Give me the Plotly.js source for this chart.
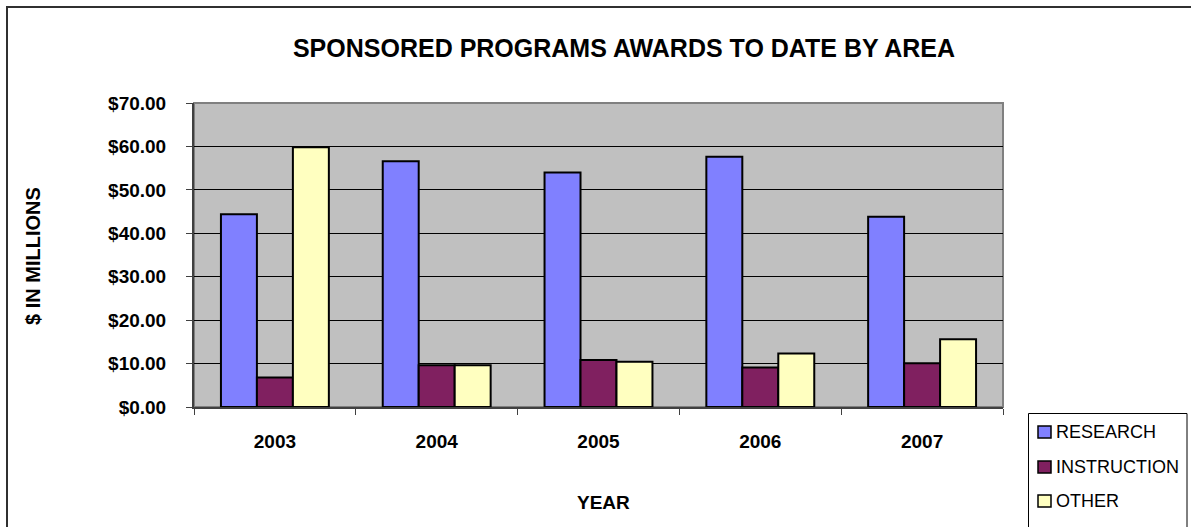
<!DOCTYPE html>
<html>
<head>
<meta charset="utf-8">
<script src="https://cdn.plot.ly/plotly-3.0.1.min.js"></script>
<style>
  html, body { margin: 0; padding: 0; background: #ffffff; overflow: hidden; }
  #chart { width: 1191px; height: 527px; }
</style>
</head>
<body>
<div id="chart"></div>
<script>
// ---- data ----
const years = ['2003', '2004', '2005', '2006', '2007'];
const research = [44.4, 56.6, 54.0, 57.6, 43.8];
const instruction = [6.8, 9.6, 10.8, 9.1, 10.1];
const other = [59.8, 9.6, 10.4, 12.3, 15.6];
const seriesNames = ['RESEARCH', 'INSTRUCTION', 'OTHER'];
const chartTitle = 'SPONSORED PROGRAMS AWARDS TO DATE BY AREA';
const xTitle = 'YEAR';
const yTitle = '$ IN MILLIONS';

const FONT = '"Liberation Sans", Arial, sans-serif';
const colors = ['#8080FF', '#802060', '#FFFFC0'];
const values = [research, instruction, other];

const traces = values.map((v, i) => ({
  type: 'bar',
  name: seriesNames[i],
  x: years,
  y: v,
  marker: { color: colors[i], line: { color: '#000000', width: 2 } },
  hoverinfo: 'x+y+name',
  showlegend: false
}));

const W = 1191, H = 527;
const L = 194, R = 1003, T = 103, B = 407;
const pw = R - L, ph = B - T;
const px = x => (x - L) / pw;
const py = y => (B - y) / ph;

// legend (drawn as shapes + text so the plot area is not resized)
const legendTextY = [432, 467, 501];
const legendShapes = [];
const legendAnn = [];
legendShapes.push({
  type: 'rect', xref: 'paper', yref: 'paper',
  x0: px(1028.5), x1: px(1187), y0: py(540), y1: py(413.5),
  line: { color: '#000000', width: 1 }, fillcolor: '#ffffff'
});
seriesNames.forEach((n, i) => {
  const cy = legendTextY[i];
  legendShapes.push({
    type: 'rect', xref: 'paper', yref: 'paper',
    x0: px(1038), x1: px(1051), y0: py(cy + 6), y1: py(cy - 6),
    line: { color: '#000000', width: 1.5 }, fillcolor: colors[i]
  });
  legendAnn.push({
    text: n, showarrow: false,
    xref: 'paper', yref: 'paper', x: px(1054), y: py(cy),
    xanchor: 'left', yanchor: 'middle',
    font: { family: FONT, size: 18, color: '#000000' }
  });
});

const layout = {
  width: W, height: H,
  margin: { l: L, r: W - R, t: T, b: H - B, pad: 0 },
  paper_bgcolor: '#ffffff',
  plot_bgcolor: '#C0C0C0',
  font: { family: FONT, color: '#000000' },
  barmode: 'group',
  bargap: 0.333,
  bargroupgap: 0,
  showlegend: false,
  title: {
    text: chartTitle,
    font: { family: FONT, size: 25, color: '#000000', weight: 'bold' },
    xref: 'container', x: 624 / W, xanchor: 'center',
    yref: 'container', y: 1 - 48 / H, yanchor: 'middle'
  },
  xaxis: {
    type: 'category',
    categoryorder: 'array', categoryarray: years,
    showline: true, linecolor: '#404040', linewidth: 2,
    ticks: 'outside', tickson: 'boundaries', ticklen: 6, tickcolor: '#404040', tickwidth: 1,
    tickfont: { family: FONT, size: 19, weight: 'bold', color: '#000000' },
    ticklabelstandoff: 16,
    showgrid: false, zeroline: false,
    automargin: false, fixedrange: true
  },
  yaxis: {
    range: [0, 70], dtick: 10, tick0: 0,
    tickprefix: '$', tickformat: '.2f',
    showline: true, linecolor: '#404040', linewidth: 2,
    ticks: 'outside', ticklen: 6, tickcolor: '#404040', tickwidth: 1,
    tickfont: { family: FONT, size: 19, weight: 'bold', color: '#000000' },
    ticklabelstandoff: 16,
    showgrid: true, gridcolor: '#000000', gridwidth: 1,
    zeroline: false, automargin: false, fixedrange: true
  },
  annotations: [
    {
      text: xTitle, showarrow: false,
      xref: 'paper', yref: 'paper', x: px(603), y: py(502),
      xanchor: 'center', yanchor: 'middle',
      font: { family: FONT, size: 19, weight: 'bold', color: '#000000' }
    },
    {
      text: yTitle, showarrow: false, textangle: -90,
      xref: 'paper', yref: 'paper', x: px(33), y: py(256),
      xanchor: 'center', yanchor: 'middle',
      font: { family: FONT, size: 20, weight: 'bold', color: '#000000' }
    }
  ].concat(legendAnn),
  shapes: [
    // plot area border
    { type: 'rect', xref: 'paper', yref: 'paper', x0: 0, x1: 1, y0: 0, y1: 1,
      line: { color: '#808080', width: 2 }, layer: 'below' },
    // outer chart frame
    { type: 'rect', xref: 'paper', yref: 'paper',
      x0: px(7), x1: px(1200), y0: py(540), y1: py(7),
      line: { color: '#303030', width: 2 }, fillcolor: 'rgba(0,0,0,0)' }
  ].concat(legendShapes)
};

Plotly.newPlot('chart', traces, layout, { displayModeBar: false });
</script>
</body>
</html>
